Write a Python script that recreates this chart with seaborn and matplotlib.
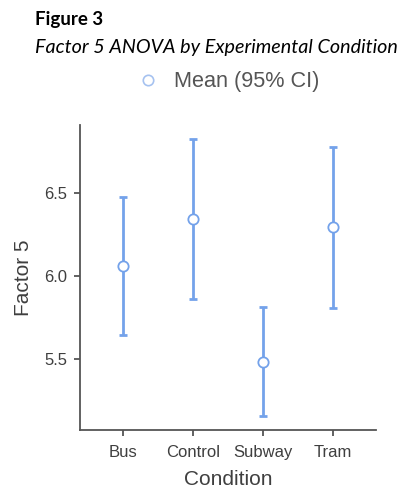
import matplotlib
matplotlib.use("Agg")
import matplotlib.pyplot as plt
import seaborn as sns
import pandas as pd
import numpy as np

conditions = ["Bus", "Control", "Subway", "Tram"]
means = [6.062, 6.342, 5.484, 6.293]
ci_low = [5.646, 5.861, 5.157, 5.809]
ci_high = [6.478, 6.823, 5.815, 6.775]

df = pd.DataFrame({"Condition": conditions, "Mean": means,
                   "Low": ci_low, "High": ci_high})

sns.set_style("white")
plt.rcParams['font.family'] = ['Liberation Sans', 'DejaVu Sans']

blue = "#74a2ea"
grey_txt = "#3f3f3f"

fig = plt.figure(figsize=(4.05, 4.91), dpi=100)
ax = fig.add_axes([80/405, 61/491, 296/405, 305/491])

x = np.arange(len(conditions))
ax.errorbar(x, df["Mean"], yerr=[df["Mean"] - df["Low"], df["High"] - df["Mean"]],
            fmt="none", ecolor=blue, elinewidth=2, capsize=3.2, capthick=2, zorder=2)
sns.scatterplot(data=df, x="Condition", y="Mean", ax=ax, s=55, color="white",
                edgecolor=blue, linewidth=1.3, zorder=3, legend=False)

ax.set_xlim(-0.614, 3.614)
ax.set_ylim(5.072, 6.91)
ax.set_yticks([5.5, 6.0, 6.5])
ax.set_yticklabels(["5.5", "6.0", "6.5"])
ax.set_xticks(x)
ax.set_xticklabels(conditions)

for s in ["top", "right"]:
    ax.spines[s].set_visible(False)
for s in ["left", "bottom"]:
    ax.spines[s].set_color("#555555")
    ax.spines[s].set_linewidth(1.3)
ax.tick_params(axis="both", which="both", length=4, width=1.3, color="#555555",
               labelsize=12, labelcolor=grey_txt, direction="out", pad=5, left=True, bottom=True)
ax.tick_params(axis="x", pad=7)
ax.set_xlabel("Condition", fontsize=15, color=grey_txt, labelpad=7)
ax.set_ylabel("Factor 5", fontsize=15, color=grey_txt, labelpad=8)

# legend
ax.plot([], [], ls="none", marker="o", mfc="white", mec="#a6c2f0", mew=1.2, ms=7.5,
        label="Mean (95% CI)")
leg = fig.legend(loc="center", bbox_to_anchor=(227/405, 1 - 82/491), frameon=False,
                 fontsize=15.6, handletextpad=0.6, borderaxespad=0, handlelength=1.2)
for t in leg.get_texts():
    t.set_color("#555555")

fig.text(35/405, 1 - 20/491, "Figure 3", fontsize=13.5, fontweight="bold",
         family=["Lato", "DejaVu Sans"], va="center", ha="left", color="black")
fig.text(35/405, 1 - 47/491, "Factor 5 ANOVA by Experimental Condition", fontsize=14.2,
         style="italic", family=["Lato", "DejaVu Sans"], va="center", ha="left", color="black")

fig.savefig("out.png", dpi=100)
